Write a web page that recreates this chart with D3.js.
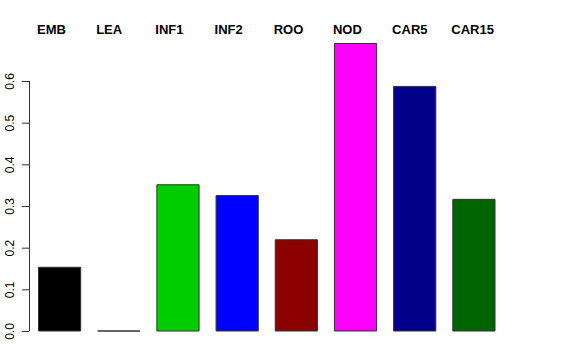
<!DOCTYPE html>
<html>
<head>
<meta charset="utf-8">
<script src="https://cdn.jsdelivr.net/npm/d3@7"></script>
<style>
  body { margin: 0; background: #fff; }
  svg { display: block; }
</style>
</head>
<body>
<div id="chart"></div>
<script>
'use strict';

// tissue names, values and bar colours
const tissues = ['EMB', 'LEA', 'INF1', 'INF2', 'ROO', 'NOD', 'CAR5', 'CAR15'];
const values  = [0.153, 0.0, 0.351, 0.325, 0.219, 0.690, 0.587, 0.316];
const colors  = ['#000000', '#808080', '#00cd00', '#0000ff', '#8b0000', '#ff00ff', '#00008b', '#006400'];
const yTicks  = [0, 0.1, 0.2, 0.3, 0.4, 0.5, 0.6];

const w = 576;
const h = 360;

const svg = d3.select('#chart')
  .append('svg')
  .attr('width', w)
  .attr('height', h);

const x = d3.scaleBand()
  .domain(tissues)
  .range([38.5, 495])
  .paddingInner(0.287)
  .paddingOuter(0);

const y = d3.scaleLinear()
  .domain([0, 0.6])
  .range([331, 81]);

// bars (a zero bar still shows as a flat line, like in R)
svg.append('g')
  .selectAll('path')
  .data(tissues)
  .join('path')
  .attr('d', (d, i) => {
    const x0 = x(d), x1 = x(d) + x.bandwidth();
    const y0 = y(0), y1 = y(values[i]);
    return `M${x0},${y0}H${x1}V${y1}H${x0}Z`;
  })
  .attr('fill', (d, i) => colors[i])
  .attr('stroke', '#333')
  .attr('stroke-width', 1);

// labels above, left aligned with the bars
svg.append('g')
  .selectAll('text')
  .data(tissues)
  .join('text')
  .attr('x', d => x(d) - 1.5)
  .attr('y', 34)
  .attr('font-family', 'Liberation Sans, Arial, sans-serif')
  .attr('font-weight', 'bold')
  .attr('font-size', 13)
  .attr('fill', '#000')
  .text(d => d);

// y axis, R style with vertical tick labels
const yAxis = d3.axisLeft(y)
  .tickValues(yTicks)
  .tickSize(7)
  .tickPadding(0)
  .tickFormat(d3.format('.1f'));

const ag = svg.append('g')
  .attr('transform', 'translate(29,0)')
  .call(yAxis);

ag.select('.domain')
  .attr('d', `M0.5,${y(0)}V${y(0.6)}`)
  .attr('stroke', '#333');
ag.selectAll('.tick line').attr('stroke', '#333');
ag.selectAll('.tick text')
  .attr('font-family', 'Liberation Sans, Arial, sans-serif')
  .attr('font-size', 12)
  .attr('fill', '#000')
  .attr('text-anchor', 'middle')
  .attr('dy', 0)
  .attr('x', null)
  .attr('transform', 'translate(-15.5,0) rotate(-90)');
</script>
</body>
</html>
